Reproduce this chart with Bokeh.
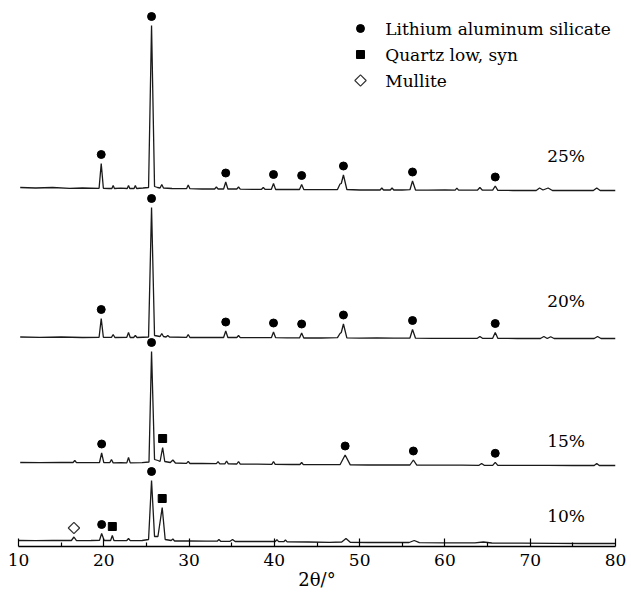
import numpy as np
from bokeh.plotting import figure
from bokeh.models import Range1d, FixedTicker, Label
from bokeh.embed import file_html
from bokeh.resources import INLINE

# ---------------- data (2θ in degrees, intensity in a.u. above each trace's offset) ----
tt_10 = [10.0, 12.0, 14.0, 16.2, 16.5, 16.8, 18.5, 19.5, 19.75, 20.05, 20.8, 21.0, 21.2,
         22.7, 22.9, 23.1, 24.5, 25.25, 25.6, 25.95, 26.35, 26.85, 27.2, 27.9, 28.1, 28.3,
         30.0, 32.0, 33.3, 33.5, 33.7, 34.8, 35.1, 35.4, 37.5, 40.1, 40.3, 40.5, 41.1, 41.3,
         41.5, 44.0, 46.5, 47.9, 48.4, 48.9, 51.0, 54.0, 55.8, 56.4, 57.0, 60.0, 63.5, 64.5,
         65.5, 69.0, 73.0, 76.0, 80.0]
int_10 = [3.0, 2.8, 3.0, 3.0, 6.5, 2.8, 3.0, 3.2, 10.0, 3.0, 3.0, 8.0, 2.8,
          3.0, 5.0, 2.8, 3.0, 4.0, 63.0, 7.0, 7.0, 36.0, 4.0, 3.0, 4.5, 2.5,
          2.5, 2.3, 2.3, 4.0, 2.2, 2.2, 4.0, 2.0, 2.0, 2.0, 3.8, 1.8, 1.8, 3.5,
          1.6, 1.5, 1.2, 1.5, 5.0, 1.2, 1.0, 1.0, 1.0, 3.0, 0.8, 0.6, 0.6, 1.5,
          0.5, 0.3, 0.2, 0.0, 0.0]

tt_15 = [10.2, 12.5, 15.0, 16.4, 16.6, 16.8, 18.0, 19.5, 19.75, 20.0, 20.7, 20.9, 21.1,
         22.0, 22.7, 22.9, 23.1, 24.5, 25.3, 25.6, 25.95, 26.35, 26.6, 26.9, 27.15, 27.8,
         28.1, 28.4, 29.7, 29.9, 30.1, 31.5, 33.2, 33.4, 33.6, 34.2, 34.4, 34.6, 35.6, 35.8,
         36.0, 38.0, 39.7, 39.9, 40.1, 42.0, 43.0, 43.2, 43.4, 45.5, 47.7, 48.3, 48.9, 51.0,
         53.5, 55.9, 56.3, 56.7, 59.0, 62.0, 64.0, 64.3, 64.6, 65.6, 65.9, 66.2, 69.0, 72.0,
         75.0, 77.5, 77.8, 78.1, 80.0]
int_15 = [3.0, 2.8, 3.0, 3.0, 5.0, 2.8, 2.8, 3.0, 12.5, 2.8, 2.8, 6.0, 2.6,
          2.8, 2.6, 8.0, 2.6, 2.8, 3.5, 114.0, 6.0, 5.0, 4.0, 18.0, 4.0, 3.0,
          5.5, 2.5, 2.2, 4.2, 2.0, 2.0, 1.8, 3.8, 1.6, 1.6, 4.5, 1.6, 1.5, 4.0,
          1.4, 1.3, 1.2, 4.0, 1.2, 1.0, 1.0, 3.0, 0.8, 0.8, 0.8, 10.5, 0.6, 0.5,
          0.5, 0.5, 5.5, 0.3, 0.3, 0.3, 0.2, 2.0, 0.2, 0.2, 3.2, 0.1, 0.1, 0.2,
          0.0, 0.0, 2.0, 0.0, 0.0]

tt_20 = [10.2, 12.5, 15.0, 17.5, 19.45, 19.7, 19.95, 20.9, 21.1, 21.3, 22.7, 22.9, 23.1,
         23.5, 23.7, 23.9, 25.25, 25.6, 25.95, 26.6, 26.8, 27.0, 27.3, 27.5, 27.7, 29.7,
         29.9, 30.1, 32.0, 34.05, 34.3, 34.55, 35.6, 35.8, 36.0, 38.0, 39.65, 39.9, 40.15,
         41.5, 42.95, 43.2, 43.45, 45.5, 47.4, 47.7, 47.85, 48.1, 48.5, 50.0, 52.0, 54.0,
         55.9, 56.2, 56.55, 58.5, 61.0, 63.8, 64.1, 64.4, 65.6, 65.9, 66.2, 68.5, 71.2,
         71.6, 72.0, 72.4, 72.8, 75.0, 77.5, 77.9, 78.3, 80.0]
int_20 = [1.5, 1.2, 1.5, 1.0, 1.2, 20.0, 1.2, 1.2, 4.0, 1.0, 1.2, 6.0, 1.0,
          1.0, 3.0, 1.0, 1.5, 131.0, 3.0, 2.0, 5.0, 2.0, 1.5, 3.0, 1.5, 1.2,
          4.0, 1.0, 1.0, 1.0, 7.5, 1.0, 1.0, 3.0, 0.8, 0.8, 0.8, 6.5, 0.8,
          0.6, 0.6, 5.5, 0.5, 0.5, 0.8, 5.0, 6.0, 14.5, 0.6, 0.3, 0.5, 0.3,
          0.5, 9.0, 0.3, 0.2, 0.2, 0.2, 2.0, 0.2, 0.2, 6.0, 0.2, 0.0, 0.0,
          2.0, 0.0, 1.8, 0.0, 0.0, 0.0, 2.0, 0.0, 0.0]

tt_25 = [10.2, 12.0, 14.0, 16.0, 17.5, 19.45, 19.7, 19.95, 20.6, 20.95, 21.1, 21.25, 22.0,
         22.75, 22.9, 23.05, 23.55, 23.7, 23.85, 24.6, 25.25, 25.6, 25.95, 26.3, 26.6, 26.8,
         27.0, 28.0, 29.7, 29.9, 30.1, 31.5, 33.0, 33.2, 33.4, 34.05, 34.3, 34.55, 35.6, 35.8,
         36.0, 37.5, 38.5, 38.7, 38.9, 39.65, 39.9, 40.15, 41.5, 42.95, 43.2, 43.45, 45.0,
         46.5, 47.4, 47.7, 47.85, 48.1, 48.5, 50.0, 52.4, 52.6, 52.8, 53.6, 53.8, 54.0, 55.0,
         55.9, 56.2, 56.55, 58.0, 60.0, 61.2, 61.4, 61.6, 63.8, 64.1, 64.4, 65.6, 65.9, 66.2,
         68.0, 70.7, 71.1, 71.5, 72.1, 72.6, 74.5, 77.4, 77.8, 78.2, 80.0]
int_25 = [3.0, 2.5, 3.0, 2.2, 2.5, 2.2, 27.0, 2.2, 2.0, 2.0, 5.0, 2.0, 2.4,
          2.0, 5.0, 2.0, 2.0, 5.0, 2.0, 2.5, 3.0, 165.0, 4.0, 3.0, 2.5, 6.0,
          2.5, 2.0, 1.8, 5.5, 1.8, 1.5, 1.5, 3.5, 1.5, 1.5, 8.5, 1.5, 1.5, 3.5,
          1.3, 1.2, 1.2, 3.0, 1.2, 1.2, 7.0, 1.0, 1.0, 1.0, 6.0, 1.0, 0.8,
          0.8, 1.0, 6.5, 7.0, 15.5, 1.0, 0.5, 0.5, 2.5, 0.5, 0.5, 2.5, 0.5, 0.5,
          0.8, 9.5, 0.5, 0.3, 0.5, 0.3, 2.3, 0.3, 0.3, 3.0, 0.3, 0.3, 4.5, 0.2,
          0.0, 0.0, 2.5, 0.5, 2.5, 0.0, 0.0, 0.0, 2.5, 0.0, 0.0]

# phase markers: 2θ of the marked reflection and its phase
mk_10_tt = [16.5, 19.75, 21.0, 25.6, 26.85]
mk_10_ph = ["Mullite", "LAS", "Quartz", "LAS", "Quartz"]
mk_15_tt = [19.75, 25.6, 26.9, 48.3, 56.3, 65.9]
mk_15_ph = ["LAS", "LAS", "Quartz", "LAS", "LAS", "LAS"]
mk_20_tt = [19.7, 25.6, 34.3, 39.9, 43.2, 48.1, 56.2, 65.9]
mk_20_ph = ["LAS"] * 8
mk_25_tt = [19.7, 25.6, 34.3, 39.9, 43.2, 48.1, 56.2, 65.9]
mk_25_ph = ["LAS"] * 8

phases = ["LAS", "Quartz", "Mullite"]
phase_names = ["Lithium aluminum silicate", "Quartz low, syn", "Mullite"]
sample_labels = ["10%", "15%", "20%", "25%"]
x_ticks = [10, 20, 30, 40, 50, 60, 70, 80]
x_minor = [15, 25, 35, 45, 55, 65, 75]

# ---------------- layout constants -------------------------------------------------
offsets = [3, 81, 208, 356]          # vertical stacking of the traces
label_dy = [28, 25, 38, 35]          # height of the % labels above each trace offset
label_x = 74.2
mark_gap = 9
leg_mark_x, leg_text_x = 50.1, 53.0  # legend layout (2θ units)
leg_y = [518, 492, 466]              # legend rows (plot units)
FONT = "DejaVu Serif"
FS = "17px"

p = figure(frame_width=597, frame_height=541, output_backend="svg", toolbar_location=None,
           x_range=Range1d(10, 80), y_range=Range1d(0, 541),
           min_border_left=18, min_border_right=16, min_border_top=5, min_border_bottom=57)
p.outline_line_color = None
p.xgrid.visible = False
p.ygrid.visible = False
p.yaxis.visible = False
p.background_fill_color = "white"
p.border_fill_color = "white"

xa = p.xaxis[0]
xa.ticker = FixedTicker(ticks=x_ticks, minor_ticks=x_minor)
xa.major_tick_in = 8
xa.major_tick_out = 0
xa.minor_tick_in = 4
xa.minor_tick_out = 0
xa.axis_line_width = 1.5
xa.major_tick_line_width = 1.2
xa.minor_tick_line_width = 1.2
xa.axis_line_color = "black"
xa.major_label_text_font = FONT
xa.major_label_text_font_size = FS
xa.major_label_text_color = "black"
xa.major_label_standoff = 7
xa.axis_label = "2θ/°"
xa.axis_label_text_font = FONT
xa.axis_label_text_font_size = "18px"
xa.axis_label_text_font_style = "normal"
xa.axis_label_text_color = "black"
xa.axis_label_standoff = 0

series = [
    (tt_10, int_10, mk_10_tt, mk_10_ph),
    (tt_15, int_15, mk_15_tt, mk_15_ph),
    (tt_20, int_20, mk_20_tt, mk_20_ph),
    (tt_25, int_25, mk_25_tt, mk_25_ph),
]

mk = {ph: ([], []) for ph in phases}
for k, (tt, it, mtt, mph) in enumerate(series):
    y = np.array(it) + offsets[k]
    p.line(tt, y, line_color="#1a1a1a", line_width=1.3)
    for t, ph in zip(mtt, mph):
        yy = np.interp(t, tt, y) + mark_gap
        mk[ph][0].append(t)
        mk[ph][1].append(yy)
    p.add_layout(Label(x=label_x, y=offsets[k] + label_dy[k], text=sample_labels[k],
                       text_align="center", text_baseline="middle", text_font=FONT,
                       text_font_size=FS, text_color="black"))

# legend rows appended to the marker lists
for ph, ly in zip(phases, leg_y):
    mk[ph][0].append(leg_mark_x)
    mk[ph][1].append(ly)

p.scatter(mk["LAS"][0], mk["LAS"][1], marker="circle", size=8,
          fill_color="black", line_color="black")
p.scatter(mk["Quartz"][0], mk["Quartz"][1], marker="square", size=8,
          fill_color="black", line_color="black")
p.scatter(mk["Mullite"][0], mk["Mullite"][1], marker="square", size=8,
          angle=np.pi / 4, fill_color="white", line_color="#333333", line_width=1.2)

for name, ly in zip(phase_names, leg_y):
    p.add_layout(Label(x=leg_text_x, y=ly, text=name, text_align="left",
                       text_baseline="middle", text_font=FONT,
                       text_font_size=FS, text_color="black"))

open("out.html", "w").write(file_html(p, INLINE))
